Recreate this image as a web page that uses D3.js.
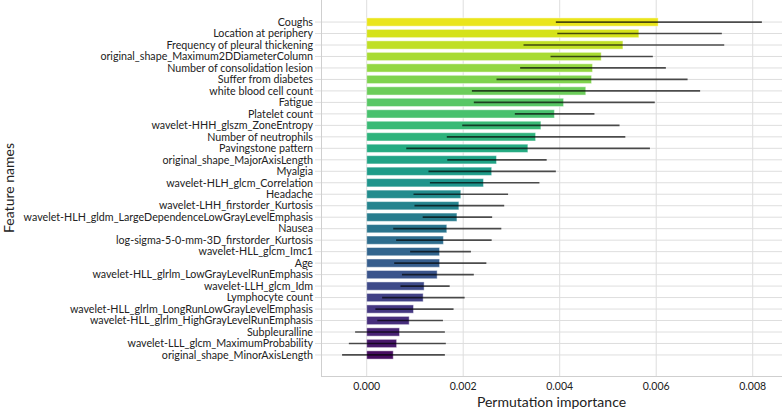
<!DOCTYPE html>
<html>
<head>
<meta charset="utf-8">
<script src="https://cdn.jsdelivr.net/npm/d3@7"></script>
<style>
  html, body { margin: 0; padding: 0; background: #fff; }
  svg { display: block; }
</style>
</head>
<body>
<svg id="chart" width="783" height="410"></svg>
<script>
const features = [
  "Coughs",
  "Location at periphery",
  "Frequency of pleural thickening",
  "original_shape_Maximum2DDiameterColumn",
  "Number of consolidation lesion ",
  "Suffer from diabetes",
  "white blood cell count",
  "Fatigue",
  "Platelet count",
  "wavelet-HHH_glszm_ZoneEntropy",
  "Number of neutrophils",
  "Pavingstone pattern",
  "original_shape_MajorAxisLength",
  "Myalgia",
  "wavelet-HLH_glcm_Correlation",
  "Headache",
  "wavelet-LHH_firstorder_Kurtosis",
  "wavelet-HLH_gldm_LargeDependenceLowGrayLevelEmphasis",
  "Nausea",
  "log-sigma-5-0-mm-3D_firstorder_Kurtosis",
  "wavelet-HLL_glcm_Imc1",
  "Age",
  "wavelet-HLL_glrlm_LowGrayLevelRunEmphasis",
  "wavelet-LLH_glcm_Idm",
  "Lymphocyte count",
  "wavelet-HLL_glrlm_LongRunLowGrayLevelEmphasis",
  "wavelet-HLL_glrlm_HighGrayLevelRunEmphasis",
  "Subpleuralline",
  "wavelet-LLL_glcm_MaximumProbability",
  "original_shape_MinorAxisLength"
];
const importance = [
  0.00604, 0.00564, 0.00531, 0.00486, 0.00468, 0.00466, 0.00454, 0.00408, 0.00389, 0.00361,
  0.00350, 0.00334, 0.00269, 0.00259, 0.00242, 0.00195, 0.00191, 0.00187, 0.00166, 0.00159,
  0.00151, 0.00151, 0.00146, 0.00119, 0.00117, 0.00097, 0.00088, 0.00068, 0.00062, 0.00055
];
const errLow = [
  0.00392, 0.00395, 0.00325, 0.00381, 0.00318, 0.00269, 0.00218, 0.00222, 0.00307, 0.00198,
  0.00166, 0.00082, 0.00167, 0.00128, 0.00131, 0.00097, 0.00099, 0.00116, 0.00055, 0.00061,
  0.00090, 0.00057, 0.00073, 0.00070, 0.00032, 0.00018, 0.00022, -0.00024, -0.00037, -0.00051
];
const errHigh = [
  0.00819, 0.00736, 0.00741, 0.00593, 0.00620, 0.00665, 0.00691, 0.00597, 0.00472, 0.00524,
  0.00536, 0.00587, 0.00373, 0.00392, 0.00358, 0.00293, 0.00285, 0.00260, 0.00279, 0.00259,
  0.00216, 0.00248, 0.00222, 0.00172, 0.00203, 0.00180, 0.00158, 0.00162, 0.00164, 0.00162
];
const xTicks = [0, 0.002, 0.004, 0.006, 0.008];

const svg = d3.select("#chart");
const plot = { left: 321, right: 782, top: 0, bottom: 376 };
const font = "Lato, 'Open Sans', sans-serif";

const x = d3.scaleLinear().domain([-0.000947, 0.008607]).range([plot.left, plot.right]);
const y = d3.scaleBand().domain(features).range([16.3, 360.7]).paddingInner(0.28).paddingOuter(0.14);
const n = features.length;
const color = i => d3.interpolateViridis(1 - (i + 1) / (n + 1));

// gridlines
const g = svg.append("g");
g.selectAll("line.vgrid").data(xTicks).join("line")
  .attr("class", "vgrid")
  .attr("x1", d => x(d)).attr("x2", d => x(d))
  .attr("y1", plot.top).attr("y2", plot.bottom)
  .attr("stroke", "#dedede").attr("stroke-width", 1);
g.selectAll("line.hgrid").data(features).join("line")
  .attr("class", "hgrid")
  .attr("x1", plot.left - 6).attr("x2", plot.right)
  .attr("y1", d => y(d) + y.bandwidth() / 2).attr("y2", d => y(d) + y.bandwidth() / 2)
  .attr("stroke", "#dedede").attr("stroke-width", 1);

// frame
svg.append("line").attr("x1", plot.left + 0.5).attr("x2", plot.left + 0.5)
  .attr("y1", plot.top).attr("y2", plot.bottom).attr("stroke", "#cfcfcf");
svg.append("line").attr("x1", plot.left).attr("x2", plot.right)
  .attr("y1", plot.bottom + 0.5).attr("y2", plot.bottom + 0.5).attr("stroke", "#cfcfcf");

// bars
svg.append("g").selectAll("rect").data(features).join("rect")
  .attr("x", x(0))
  .attr("y", d => y(d))
  .attr("width", (d, i) => x(importance[i]) - x(0))
  .attr("height", y.bandwidth())
  .attr("fill", (d, i) => color(i))
  .attr("stroke", "#ffffff").attr("stroke-opacity", 0.45).attr("stroke-width", 1);

// error bars
svg.append("g").selectAll("line").data(features).join("line")
  .attr("x1", (d, i) => x(errLow[i])).attr("x2", (d, i) => x(errHigh[i]))
  .attr("y1", d => y(d) + y.bandwidth() / 2).attr("y2", d => y(d) + y.bandwidth() / 2)
  .attr("stroke", "#000").attr("stroke-opacity", 0.68).attr("stroke-width", 1.7);

// y labels
svg.append("g").selectAll("text").data(features).join("text")
  .attr("x", plot.left - 8)
  .attr("y", d => y(d) + y.bandwidth() / 2)
  .attr("dy", "0.35em")
  .attr("text-anchor", "end")
  .attr("font-family", font).attr("font-size", 10.7).attr("fill", "#222")
  .text(d => d);

// x tick labels
svg.append("g").selectAll("text").data(xTicks).join("text")
  .attr("x", d => x(d)).attr("y", 390)
  .attr("text-anchor", "middle")
  .attr("font-family", font).attr("font-size", 10.5).attr("fill", "#222")
  .text(d => d3.format(".3f")(d));

// axis titles
svg.append("text").attr("x", (plot.left + plot.right) / 2).attr("y", 407)
  .attr("text-anchor", "middle").attr("font-family", font).attr("font-size", 14).attr("fill", "#222")
  .text("Permutation importance");
svg.append("text").attr("transform", `translate(14,${(plot.top + plot.bottom) / 2}) rotate(-90)`)
  .attr("text-anchor", "middle").attr("font-family", font).attr("font-size", 14).attr("fill", "#222")
  .text("Feature names");
</script>
</body>
</html>
